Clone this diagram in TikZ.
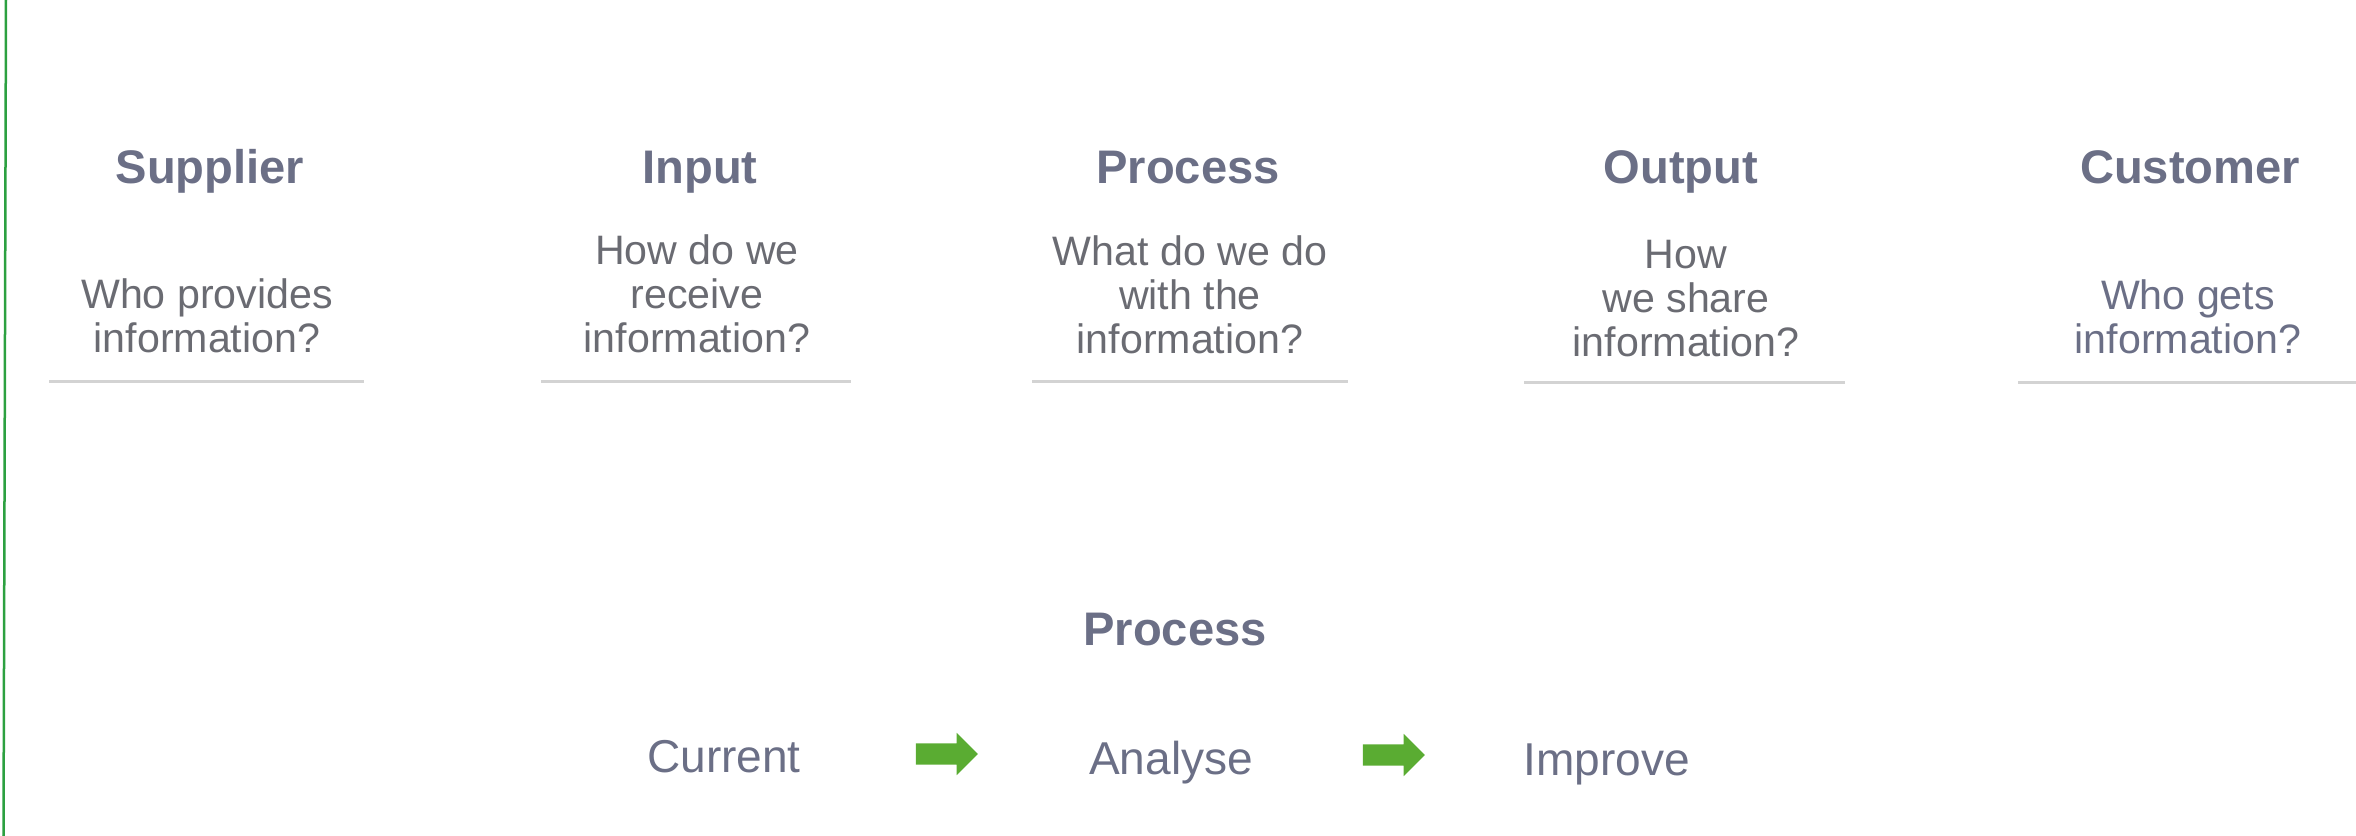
\documentclass[tikz,border=0pt]{standalone}
\usepackage{fontspec}
\setmainfont{Liberation Sans}
\usetikzlibrary{shapes.arrows}
\definecolor{headgray}{RGB}{107,111,134}
\definecolor{bodygray}{RGB}{106,107,114}
\definecolor{rulegray}{RGB}{211,211,211}
\definecolor{arrowgreen}{RGB}{90,172,50}
\definecolor{edgegreen}{RGB}{44,160,64}
\tikzset{
    every node/.style = {inner sep=0pt, outer sep=0pt},
    head/.style = {anchor=base, text=headgray, font=\fontsize{13.4}{16}\selectfont\bfseries},
    body/.style = {anchor=base, align=center, text=bodygray, font=\fontsize{11.7}{12.4}\selectfont},
    stage/.style = {anchor=base, text=headgray, font=\fontsize{13.1}{15}\selectfont},
    rule/.style = {draw=rulegray, line width=0.03cm},
    flow/.style = {single arrow, fill=arrowgreen, minimum height=0.62cm, inner xsep=0pt,
        inner ysep=0.1cm, single arrow head extend=0.105cm, text height=0pt, text depth=0pt}
}

\begin{document}
\begin{tikzpicture}[x=0.01cm, y=-0.01cm]
        \useasboundingbox (0,0) rectangle (2356,836);

        % green edge at the left
        \coordinate (edge top) at (6,0);
        \coordinate (edge bottom) at (3.5,836);
        \draw[edgegreen, line width=0.025cm] (edge top) -- (edge bottom);

        % SIPOC columns
        \node[head] (supplier) at (210,183) {Supplier};
        \node[body] (supplier q) at (207,352) {Who provides\\information?};
        \draw[rule] (49,381) -- (364,381);

        \node[head] (input) at (700,183) {Input};
        \node[body] (input q) at (697,352) {How do we\\receive\\information?};
        \draw[rule] (541,381) -- (851,381);

        \node[head] (process) at (1188,183) {Process};
        \node[body] (process q) at (1190,353) {What do we do\\with the\\information?};
        \draw[rule] (1032,381) -- (1348,381);

        \node[head] (output) at (1681,183) {Output};
        \node[body] (output q) at (1686,356) {How\\we share\\information?};
        \draw[rule] (1524,382) -- (1845,382);

        \node[head] (customer) at (2190,183) {Customer};
        \node[body, text=headgray] (customer q) at (2188,353) {Who gets\\information?};
        \draw[rule] (2018,382) -- (2356,382);

        % improvement steps
        \node[head] (steps) at (1175,645) {Process};
        \node[stage] (current) at (724,772) {Current};
        \node[stage] (analyse) at (1171,774) {Analyse};
        \node[stage] (improve) at (1607,775) {Improve};
        \node[flow] (step1) at (941.5,754) {};
        \node[flow] (step2) at (1388.5,755) {};
\end{tikzpicture}
\end{document}
